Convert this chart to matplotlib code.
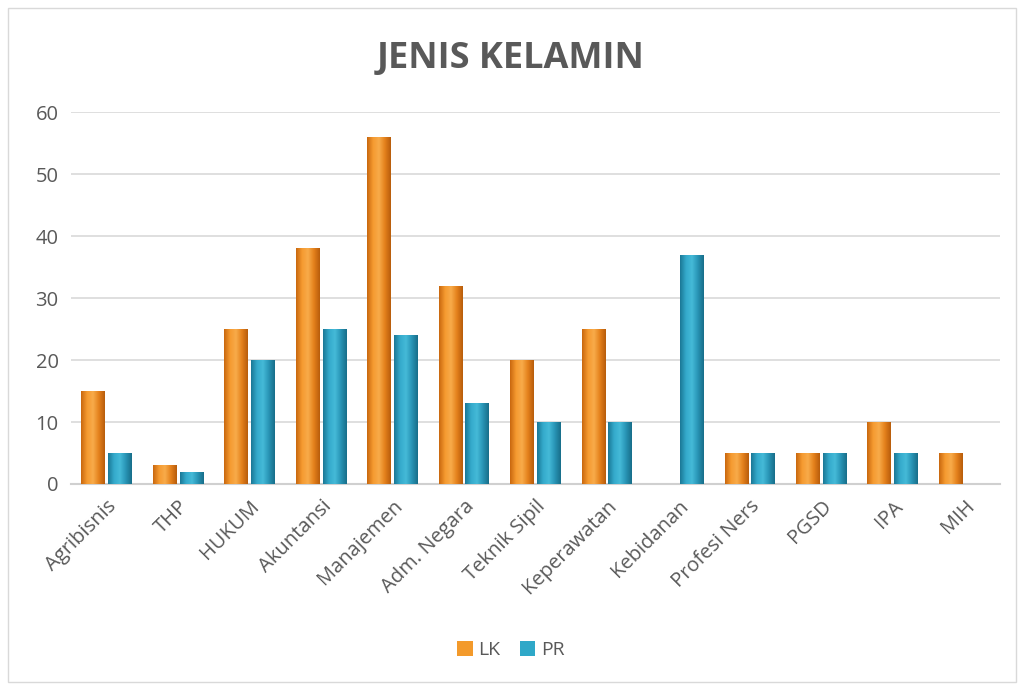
import matplotlib
matplotlib.use("Agg")
import matplotlib.pyplot as plt
import numpy as np
from matplotlib.patches import Rectangle
from matplotlib.colors import LinearSegmentedColormap

categories = ["Agribisnis", "THP", "HUKUM", "Akuntansi", "Manajemen", "Adm. Negara",
              "Teknik Sipil", "Keperawatan", "Kebidanan", "Profesi Ners", "PGSD", "IPA", "MIH"]
lk = [15, 3, 25, 38, 56, 32, 20, 25, 0, 5, 5, 10, 5]
pr = [5, 2, 20, 25, 24, 13, 10, 10, 37, 5, 5, 5, 0]
yticks = [0, 10, 20, 30, 40, 50, 60]

plt.rcParams['font.family'] = ['Open Sans', 'DejaVu Sans']
fig = plt.figure(figsize=(10.22, 6.86), dpi=100)
ax = fig.add_axes([0.0695, 0.2945, 0.909, 0.542])

x = np.arange(len(categories))
w = 0.335
cmap_lk = LinearSegmentedColormap.from_list("lk", ["#c9680f", "#f59a30", "#f8ab4a", "#e4811c", "#b85d0c"])
cmap_pr = LinearSegmentedColormap.from_list("pr", ["#1b7896", "#34aacb", "#45bad8", "#2894b5", "#186e8a"])
grad = np.linspace(0, 1, 64).reshape(1, -1)

b1 = ax.bar(x - w/2 - 0.02, lk, w, color="#f39a2b", label="LK", zorder=2)
b2 = ax.bar(x + w/2 + 0.02, pr, w, color="#2fa8c8", label="PR", zorder=2)
for bars, cm in ((b1, cmap_lk), (b2, cmap_pr)):
    for r in bars:
        h = r.get_height()
        if h <= 0:
            continue
        x0 = r.get_x(); bw = r.get_width()
        im = ax.imshow(grad, cmap=cm, aspect='auto', extent=[x0, x0 + bw, 0, h], zorder=3)
        im.set_clip_path(r)

ax.set_xlim(-0.5, len(categories) - 0.5)
ax.set_ylim(0, 60)
ax.set_yticks(yticks)
ax.yaxis.grid(True, color="#d9d9d9", linewidth=1.2, zorder=0)
ax.set_axisbelow(True)
for s in ["top", "right", "left"]:
    ax.spines[s].set_visible(False)
ax.spines["bottom"].set_color("#d0d0d0")
ax.spines["bottom"].set_linewidth(1.5)
ax.tick_params(axis='both', length=0, labelsize=14.5, colors="#595959", pad=9)
ax.set_xticks(x)
ax.set_xticklabels(categories, rotation=45, ha='right', rotation_mode='anchor')

fig.suptitle("JENIS KELAMIN", fontsize=26, fontweight='bold', color="#595959", y=0.94)
leg = fig.legend(handles=[b1, b2], labels=["LK", "PR"], loc='center', bbox_to_anchor=(0.5, 0.052),
                 ncol=2, frameon=False, fontsize=14, handlelength=0.8, handleheight=0.8,
                 columnspacing=1.0, handletextpad=0.3, labelcolor="#595959")
fig.patches.append(Rectangle((0.008, 0.006), 0.986, 0.982, transform=fig.transFigure,
                             fill=False, edgecolor="#d9d9d9", linewidth=1))
fig.savefig("out.png", dpi=100)
